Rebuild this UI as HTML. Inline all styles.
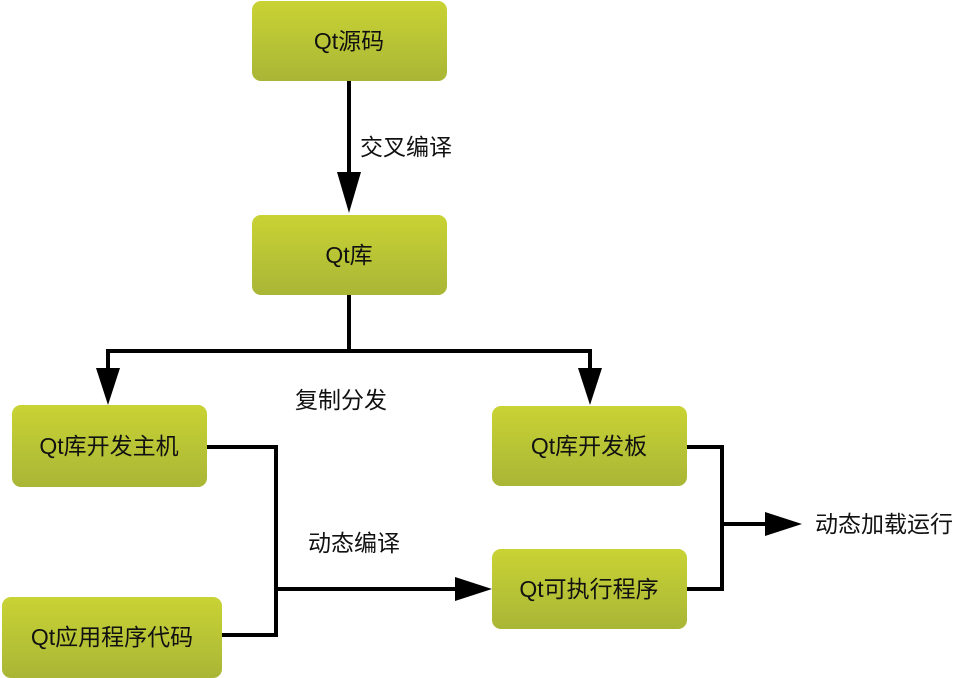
<!DOCTYPE html>
<html><head><meta charset="utf-8"><style>
html,body{margin:0;padding:0;background:#fff;}
svg{display:block;}
text{font-family:"Liberation Sans","Noto Sans CJK SC",sans-serif;font-size:23px;fill:#111;}
</style></head><body>
<svg width="977" height="678" viewBox="0 0 977 678" xmlns="http://www.w3.org/2000/svg">
<defs>
<linearGradient id="g" x1="0" y1="0" x2="0" y2="1">
<stop offset="0" stop-color="#c9d334"/>
<stop offset="1" stop-color="#a9b636"/>
</linearGradient>
</defs>
<g fill="url(#g)">
<rect x="252" y="1" width="195" height="80" rx="9"/>
<rect x="252" y="215" width="195" height="80" rx="9"/>
<rect x="12" y="405" width="195" height="82" rx="9"/>
<rect x="2" y="597" width="220" height="81" rx="9"/>
<rect x="492" y="406" width="195" height="80" rx="9"/>
<rect x="492" y="549" width="195" height="80" rx="9"/>
</g>
<g stroke="#000" stroke-width="4" fill="none">
<line x1="349" y1="81" x2="349" y2="175"/>
<polyline points="349,295 349,351"/>
<line x1="106" y1="351" x2="592" y2="351"/>
<line x1="108" y1="351" x2="108" y2="370"/>
<line x1="590" y1="351" x2="590" y2="370"/>
<polyline points="207,447 276,447 276,635 222,635"/>
<line x1="276" y1="589" x2="458" y2="589"/>
<polyline points="687,447 722,447 722,589 687,589"/>
<line x1="722" y1="524" x2="768" y2="524"/>
</g>
<g fill="#000">
<polygon points="337,172 361,172 349,213"/>
<polygon points="96,368 120,368 108,405"/>
<polygon points="578,368 602,368 590,405"/>
<polygon points="455,577 455,601 492,589"/>
<polygon points="765,512 765,536 802,524"/>
</g>
<g text-anchor="middle">
<text x="349" y="49">Qt源码</text>
<text x="349" y="263">Qt库</text>
<text x="109" y="454">Qt库开发主机</text>
<text x="112" y="645">Qt应用程序代码</text>
<text x="589" y="454">Qt库开发板</text>
<text x="589" y="597">Qt可执行程序</text>
</g>
<text x="360" y="155">交叉编译</text>
<text x="295" y="408">复制分发</text>
<text x="308" y="551">动态编译</text>
<text x="815" y="532">动态加载运行</text>
</svg>
</body></html>
